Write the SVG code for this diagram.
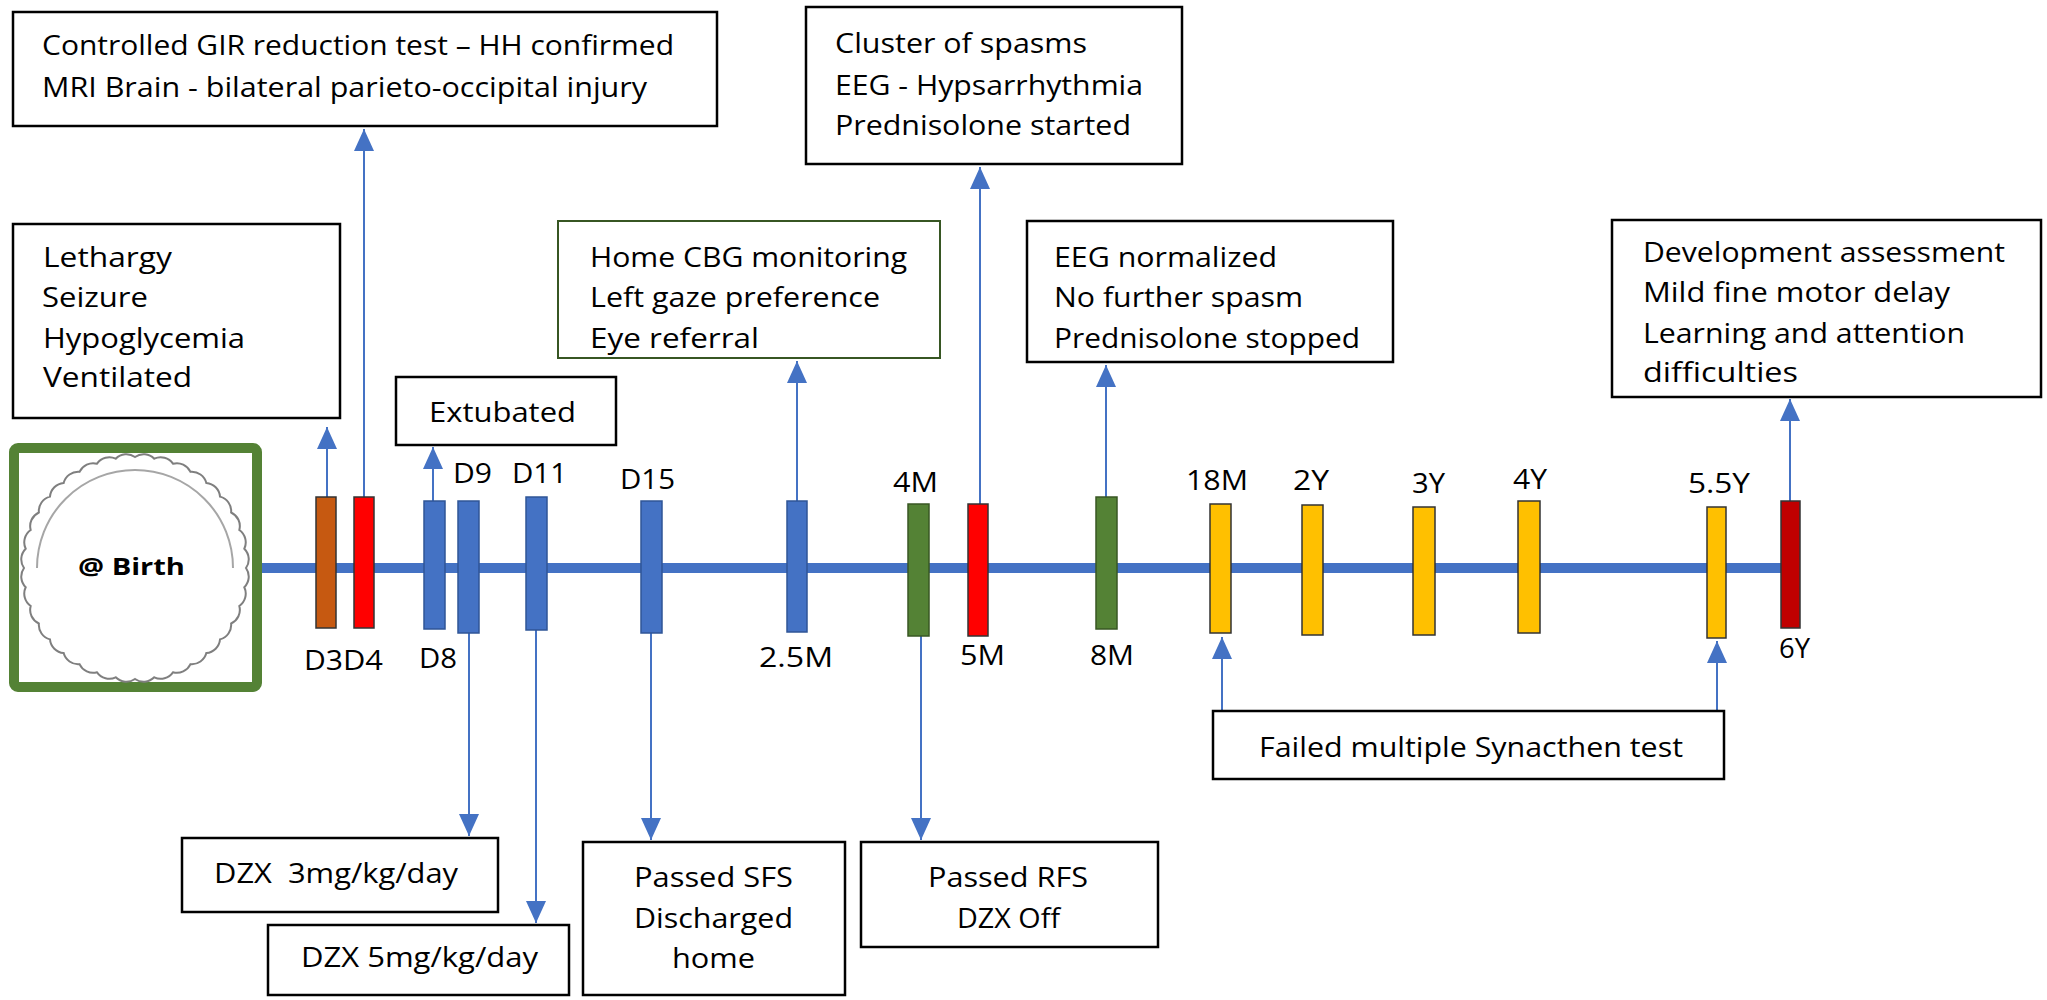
<svg xmlns="http://www.w3.org/2000/svg" width="2047" height="1000" viewBox="0 0 2047 1000">
<style>
.box{fill:#fff;stroke:#000;stroke-width:2.5}
.gbox{fill:#fff;stroke:#375623;stroke-width:2}
.t{font-family:"Open Sans","Liberation Sans",sans-serif;font-size:27px;fill:#000}
.l{font-family:"Open Sans","Liberation Sans",sans-serif;font-size:28px;fill:#000}
.conn{stroke:#4472C4;stroke-width:2;fill:none;marker-end:url(#arr)}
.bar{stroke-width:1.5}
.blue{fill:#4472C4;stroke:#2F5597}
.orange{fill:#C65911;stroke:#333}
.red{fill:#FF0000;stroke:#333}
.green{fill:#548235;stroke:#385723}
.yellow{fill:#FFC000;stroke:#333}
.dred{fill:#C00000;stroke:#333}
</style>
<defs>
<marker id="arr" viewBox="0 0 22 20" refX="22" refY="10" markerWidth="22" markerHeight="20" markerUnits="userSpaceOnUse" orient="auto">
<path d="M0,0 L22,10 L0,20 z" fill="#4472C4"/>
</marker>
</defs>
<rect width="2047" height="1000" fill="#fff"/>

<g id="timeline">
<line x1="262" y1="568" x2="1781" y2="568" stroke="#4472C4" stroke-width="10"/>
</g>

<g id="connectors">
<line class="conn" x1="327" y1="497" x2="327" y2="427"/>
<line class="conn" x1="364" y1="497" x2="364" y2="129"/>
<line class="conn" x1="433" y1="501" x2="433" y2="447"/>
<line class="conn" x1="469" y1="633" x2="469" y2="836"/>
<line class="conn" x1="536" y1="630" x2="536" y2="923"/>
<line class="conn" x1="651" y1="633" x2="651" y2="840"/>
<line class="conn" x1="797" y1="501" x2="797" y2="361"/>
<line class="conn" x1="921" y1="636" x2="921" y2="840"/>
<line class="conn" x1="980" y1="504" x2="980" y2="167"/>
<line class="conn" x1="1106" y1="497" x2="1106" y2="365"/>
<line class="conn" x1="1222" y1="711" x2="1222" y2="637"/>
<line class="conn" x1="1717" y1="711" x2="1717" y2="641"/>
<line class="conn" x1="1790" y1="501" x2="1790" y2="399"/>
</g>

<g id="birth">
<rect x="14" y="448" width="243" height="239" rx="4" fill="#fff" stroke="#548235" stroke-width="10"/>
<path fill="none" stroke="#7f7f7f" stroke-width="2" d="M246,568 A15 15 0 0 1 244.31,587.27 A15 15 0 0 1 239.31,605.96 A15 15 0 0 1 231.13,623.5 A15 15 0 0 1 220.03,639.35 A15 15 0 0 1 206.35,653.03 A15 15 0 0 1 190.5,664.13 A15 15 0 0 1 172.96,672.31 A15 15 0 0 1 154.27,677.31 A15 15 0 0 1 135,679 A15 15 0 0 1 115.73,677.31 A15 15 0 0 1 97.04,672.31 A15 15 0 0 1 79.5,664.13 A15 15 0 0 1 63.65,653.03 A15 15 0 0 1 49.97,639.35 A15 15 0 0 1 38.87,623.5 A15 15 0 0 1 30.69,605.96 A15 15 0 0 1 25.69,587.27 A15 15 0 0 1 24,568 A15 15 0 0 1 25.69,548.73 A15 15 0 0 1 30.69,530.04 A15 15 0 0 1 38.87,512.5 A15 15 0 0 1 49.97,496.65 A15 15 0 0 1 63.65,482.97 A15 15 0 0 1 79.5,471.87 A15 15 0 0 1 97.04,463.69 A15 15 0 0 1 115.73,458.69 A15 15 0 0 1 135,457 A15 15 0 0 1 154.27,458.69 A15 15 0 0 1 172.96,463.69 A15 15 0 0 1 190.5,471.87 A15 15 0 0 1 206.35,482.97 A15 15 0 0 1 220.03,496.65 A15 15 0 0 1 231.13,512.5 A15 15 0 0 1 239.31,530.04 A15 15 0 0 1 244.31,548.73 A15 15 0 0 1 246,568 Z"/>
<path fill="none" stroke="#a6a6a6" stroke-width="2" d="M37,568 A98 98 0 0 1 233,568"/>
<text x="78" y="575" font-family="'Open Sans','Liberation Sans',sans-serif" font-size="24" font-weight="bold" textLength="107" lengthAdjust="spacingAndGlyphs">@ Birth</text>
</g>

<g id="bars">
<g id="d3"><rect class="bar orange" x="316" y="497" width="20" height="131"/><text class="l" x="304" y="670" textLength="39" lengthAdjust="spacingAndGlyphs">D3</text></g>
<g id="d4"><rect class="bar red" x="354" y="497" width="20" height="131"/><text class="l" x="343" y="670" textLength="40" lengthAdjust="spacingAndGlyphs">D4</text></g>
<g id="d8"><rect class="bar blue" x="424" y="501" width="21" height="128"/><text class="l" x="419" y="668" textLength="38" lengthAdjust="spacingAndGlyphs">D8</text></g>
<g id="d9"><rect class="bar blue" x="458" y="501" width="21" height="132"/><text class="l" x="453" y="483" textLength="39" lengthAdjust="spacingAndGlyphs">D9</text></g>
<g id="d11"><rect class="bar blue" x="526" y="497" width="21" height="133"/><text class="l" x="512" y="483" textLength="55" lengthAdjust="spacingAndGlyphs">D11</text></g>
<g id="d15"><rect class="bar blue" x="641" y="501" width="21" height="132"/><text class="l" x="620" y="489" textLength="55" lengthAdjust="spacingAndGlyphs">D15</text></g>
<g id="m2_5"><rect class="bar blue" x="787" y="501" width="20" height="131"/><text class="l" x="759" y="667" textLength="74" lengthAdjust="spacingAndGlyphs">2.5M</text></g>
<g id="m4"><rect class="bar green" x="908" y="504" width="21" height="132"/><text class="l" x="893" y="492" textLength="45" lengthAdjust="spacingAndGlyphs">4M</text></g>
<g id="m5"><rect class="bar red" x="968" y="504" width="20" height="132"/><text class="l" x="960" y="665" textLength="45" lengthAdjust="spacingAndGlyphs">5M</text></g>
<g id="m8"><rect class="bar green" x="1096" y="497" width="21" height="132"/><text class="l" x="1090" y="665" textLength="44" lengthAdjust="spacingAndGlyphs">8M</text></g>
<g id="m18"><rect class="bar yellow" x="1210" y="504" width="21" height="129"/><text class="l" x="1186" y="490" textLength="62" lengthAdjust="spacingAndGlyphs">18M</text></g>
<g id="y2"><rect class="bar yellow" x="1302" y="505" width="21" height="130"/><text class="l" x="1293" y="490" textLength="36" lengthAdjust="spacingAndGlyphs">2Y</text></g>
<g id="y3"><rect class="bar yellow" x="1413" y="507" width="22" height="128"/><text class="l" x="1412" y="493" textLength="33" lengthAdjust="spacingAndGlyphs">3Y</text></g>
<g id="y4"><rect class="bar yellow" x="1518" y="501" width="22" height="132"/><text class="l" x="1513" y="489" textLength="34" lengthAdjust="spacingAndGlyphs">4Y</text></g>
<g id="y5_5"><rect class="bar yellow" x="1707" y="507" width="19" height="131"/><text class="l" x="1688" y="493" textLength="62" lengthAdjust="spacingAndGlyphs">5.5Y</text></g>
<g id="y6"><rect class="bar dred" x="1781" y="501" width="19" height="127"/><text class="l" x="1779" y="658" textLength="31" lengthAdjust="spacingAndGlyphs">6Y</text></g>
</g>

<g id="box-gir">
<rect class="box" x="13" y="12" width="704" height="114"/>
<text class="t" x="42" y="55" textLength="632" lengthAdjust="spacingAndGlyphs">Controlled GIR reduction test – HH confirmed</text>
<text class="t" x="42" y="97" textLength="605" lengthAdjust="spacingAndGlyphs">MRI Brain - bilateral parieto-occipital injury</text>
</g>

<g id="box-lethargy">
<rect class="box" x="13" y="224" width="327" height="194"/>
<text class="t" x="43" y="267" textLength="129" lengthAdjust="spacingAndGlyphs">Lethargy</text>
<text class="t" x="42" y="307" textLength="106" lengthAdjust="spacingAndGlyphs">Seizure</text>
<text class="t" x="43" y="348" textLength="202" lengthAdjust="spacingAndGlyphs">Hypoglycemia</text>
<text class="t" x="43" y="387" textLength="149" lengthAdjust="spacingAndGlyphs">Ventilated</text>
</g>

<g id="box-extubated">
<rect class="box" x="396" y="377" width="220" height="68"/>
<text class="t" x="429" y="422" textLength="147" lengthAdjust="spacingAndGlyphs">Extubated</text>
</g>

<g id="box-cbg">
<rect class="gbox" x="558" y="221" width="382" height="137"/>
<text class="t" x="590" y="267" textLength="317" lengthAdjust="spacingAndGlyphs">Home CBG monitoring</text>
<text class="t" x="590" y="307" textLength="290" lengthAdjust="spacingAndGlyphs">Left gaze preference</text>
<text class="t" x="590" y="348" textLength="169" lengthAdjust="spacingAndGlyphs">Eye referral</text>
</g>

<g id="box-cluster">
<rect class="box" x="806" y="7" width="376" height="157"/>
<text class="t" x="835" y="53" textLength="252" lengthAdjust="spacingAndGlyphs">Cluster of spasms</text>
<text class="t" x="835" y="95" textLength="308" lengthAdjust="spacingAndGlyphs">EEG - Hypsarrhythmia</text>
<text class="t" x="835" y="135" textLength="296" lengthAdjust="spacingAndGlyphs">Prednisolone started</text>
</g>

<g id="box-eegnorm">
<rect class="box" x="1027" y="221" width="366" height="141"/>
<text class="t" x="1054" y="267" textLength="223" lengthAdjust="spacingAndGlyphs">EEG normalized</text>
<text class="t" x="1054" y="307" textLength="249" lengthAdjust="spacingAndGlyphs">No further spasm</text>
<text class="t" x="1054" y="348" textLength="306" lengthAdjust="spacingAndGlyphs">Prednisolone stopped</text>
</g>

<g id="box-dev">
<rect class="box" x="1612" y="220" width="429" height="177"/>
<text class="t" x="1643" y="262" textLength="362" lengthAdjust="spacingAndGlyphs">Development assessment</text>
<text class="t" x="1643" y="302" textLength="307" lengthAdjust="spacingAndGlyphs">Mild fine motor delay</text>
<text class="t" x="1643" y="343" textLength="322" lengthAdjust="spacingAndGlyphs">Learning and attention</text>
<text class="t" x="1643" y="382" textLength="155" lengthAdjust="spacingAndGlyphs">difficulties</text>
</g>

<g id="box-dzx3">
<rect class="box" x="182" y="838" width="316" height="74"/>
<text class="t" x="214" y="883" textLength="244" lengthAdjust="spacingAndGlyphs" xml:space="preserve">DZX  3mg/kg/day</text>
</g>

<g id="box-dzx5">
<rect class="box" x="268" y="925" width="301" height="70"/>
<text class="t" x="301" y="967" textLength="237" lengthAdjust="spacingAndGlyphs">DZX 5mg/kg/day</text>
</g>

<g id="box-sfs">
<rect class="box" x="583" y="842" width="262" height="153"/>
<text class="t" x="634" y="887" textLength="159" lengthAdjust="spacingAndGlyphs">Passed SFS</text>
<text class="t" x="634" y="928" textLength="159" lengthAdjust="spacingAndGlyphs">Discharged</text>
<text class="t" x="672" y="968" textLength="83" lengthAdjust="spacingAndGlyphs">home</text>
</g>

<g id="box-rfs">
<rect class="box" x="861" y="842" width="297" height="105"/>
<text class="t" x="928" y="887" textLength="160" lengthAdjust="spacingAndGlyphs">Passed RFS</text>
<text class="t" x="957" y="928" textLength="103" lengthAdjust="spacingAndGlyphs">DZX Off</text>
</g>

<g id="box-synacthen">
<rect class="box" x="1213" y="711" width="511" height="68"/>
<text class="t" x="1259" y="757" textLength="424" lengthAdjust="spacingAndGlyphs">Failed multiple Synacthen test</text>
</g>
</svg>
